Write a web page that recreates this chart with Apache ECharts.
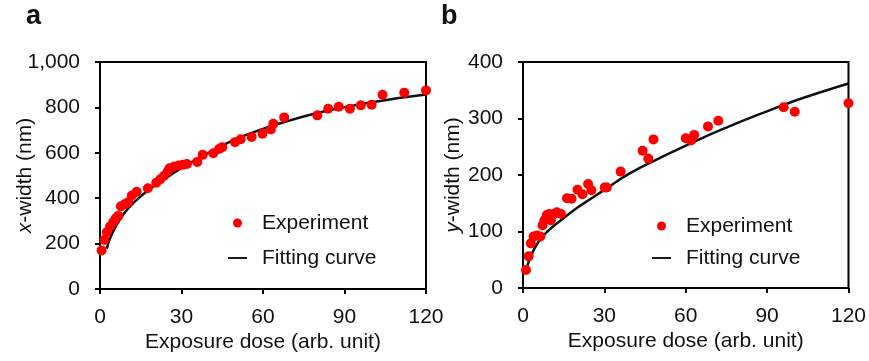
<!DOCTYPE html>
<html>
<head>
<meta charset="utf-8">
<script src="https://cdn.jsdelivr.net/npm/echarts@6/dist/echarts.min.js"></script>
<style>
  html, body { margin: 0; padding: 0; background: #fff; }
  #chart { width: 869px; height: 361px; }
</style>
</head>
<body>
<div id="chart"></div>
<script>
// panel a : x-width
var expAX = [0.6,1.6,2.5,3.7,4.9,5.8,6.7,7.7,9.2,10.4,11.7,13.5,17.6,20.7,22.1,23.5,24.9,25.6,27.3,29.0,30.5,32.0,35.8,37.8,41.7,43.8,45.0,49.7,51.8,55.8,59.8,62.9,63.8,67.8,80.0,84.0,87.9,92.0,96.0,100,104,112,120];
var expAY = [170,216,250,275,295,311,322,364,374,382,412,428,444,468,482,498,518,532,540,544,547,551,560,591,598,617,625,647,660,670,684,703,728,756,765,794,803,794,809,812,856,865,875];
var fitAX = [2.5,4,6,8,10,14,19,25,31,40,50,60,70,80,90,100,110,120];
var fitAY = [178,232,280,318,350,398,446,495,540,600,660,705,743,775,801,823,841,857];

// panel b : y-width
var expBX = [1.1,2.1,2.9,3.9,5.1,6.4,7.2,7.9,8.8,9.7,10.3,11.5,12.5,14.0,16.2,17.9,20.1,21.9,24.0,25.2,30.1,30.9,36.0,44.1,46.2,48.1,60.0,61.9,63.1,68.2,72.0,96.1,100.2,120];
var expBY = [32,56,79,91,93,91,111,120,129,131,120,131,134,131,159,158,174,166,184,173,178,178,206,243,229,263,265,261,271,286,296,320,312,327];
var fitBX = [1,3,5.5,9,14,20,26,32,39,50,64,76,88,100,110,120];
var fitBY = [30,57,80,100,120,142,161,180,202,229,261,286,309,331,347,362];

function pairs(xs, ys) {
  var out = [];
  for (var i = 0; i < xs.length; i++) out.push([xs[i], ys[i]]);
  return out;
}

var FONT = 'Liberation Sans';
var INK = '#111';
var FS = 21;

function baseAxis() {
  return {
    nameMoveOverlap: false,
    axisLine: { onZero: false, lineStyle: { color: '#000', width: 2 } },
    axisTick: { inside: false, length: 5, lineStyle: { color: '#000', width: 2 } },
    axisLabel: { color: INK, fontSize: FS, fontFamily: FONT, margin: 18 },
    splitLine: { show: false }
  };
}

function makeX(idx) {
  var ax = baseAxis();
  ax.gridIndex = idx;
  ax.type = 'value';
  ax.min = 0; ax.max = 120; ax.interval = 30;
  ax.name = 'Exposure dose (arb. unit)';
  ax.nameLocation = 'middle';
  ax.nameGap = 43;
  ax.nameTextStyle = { color: INK, fontSize: FS, fontFamily: FONT };
  return ax;
}

function makeY(idx, max, step, name, gap, fmt) {
  var ax = baseAxis();
  ax.gridIndex = idx;
  ax.type = 'value';
  ax.min = 0; ax.max = max; ax.interval = step;
  ax.axisLabel.margin = 20;
  if (fmt) ax.axisLabel.formatter = fmt;
  ax.name = name;
  ax.nameLocation = 'middle';
  ax.nameGap = gap;
  ax.nameTextStyle = {
    color: INK, fontSize: FS, fontFamily: FONT,
    rich: { i: { fontStyle: 'italic', fontSize: FS, fontFamily: FONT, color: INK } }
  };
  return ax;
}

var lineIcon = 'path://M0,9 L20,9 L20,11 L0,11 Z';

function makeLegend(left, top, gap) {
  return {
    orient: 'vertical', left: left, top: top, itemWidth: 19, itemHeight: 9, itemGap: gap,
    textStyle: { fontSize: FS, lineHeight: 22, color: INK, fontFamily: FONT, padding: [0, 0, 0, 10] },
    data: [{ name: 'Experiment', icon: 'circle' }, { name: 'Fitting curve', icon: lineIcon }]
  };
}

var option = {
  animation: false,
  backgroundColor: '#fff',
  title: [
    { text: 'a', left: 21, top: -2, textStyle: { fontSize: 27, fontWeight: 'bold', color: INK, fontFamily: FONT } },
    { text: 'b', left: 436, top: -2, textStyle: { fontSize: 27, fontWeight: 'bold', color: INK, fontFamily: FONT } }
  ],
  grid: [
    { left: 100, top: 62, width: 326, height: 227, show: true, borderColor: '#000', borderWidth: 2 },
    { left: 523, top: 62, width: 327, height: 226, show: true, borderColor: '#000', borderWidth: 2 }
  ],
  legend: [makeLegend(223, 207, 13), makeLegend(647, 210, 10)],
  xAxis: [makeX(0), makeX(1)],
  yAxis: [
    makeY(0, 1000, 200, '{i|x}-width (nm)', 64, function (v) { return v >= 1000 ? '1,000' : String(v); }),
    makeY(1, 400, 100, '{i|y}-width (nm)', 59)
  ],
  series: [
    { name: 'Fitting curve', type: 'line', xAxisIndex: 0, yAxisIndex: 0, smooth: 0.5, symbol: 'none',
      lineStyle: { color: INK, width: 2.5 }, itemStyle: { color: INK }, data: pairs(fitAX, fitAY), z: 2 },
    { name: 'Experiment', type: 'scatter', xAxisIndex: 0, yAxisIndex: 0, symbolSize: 10,
      itemStyle: { color: '#ff0000', opacity: 1 }, data: pairs(expAX, expAY), z: 3 },
    { name: 'Fitting curve', type: 'line', xAxisIndex: 1, yAxisIndex: 1, smooth: 0.5, symbol: 'none',
      lineStyle: { color: INK, width: 2.5 }, itemStyle: { color: INK }, data: pairs(fitBX, fitBY), z: 2 },
    { name: 'Experiment', type: 'scatter', xAxisIndex: 1, yAxisIndex: 1, symbolSize: 10,
      itemStyle: { color: '#ff0000', opacity: 1 }, data: pairs(expBX, expBY), z: 3 }
  ]
};

var myChart = echarts.init(document.getElementById('chart'));
myChart.setOption(option);
</script>
</body>
</html>
